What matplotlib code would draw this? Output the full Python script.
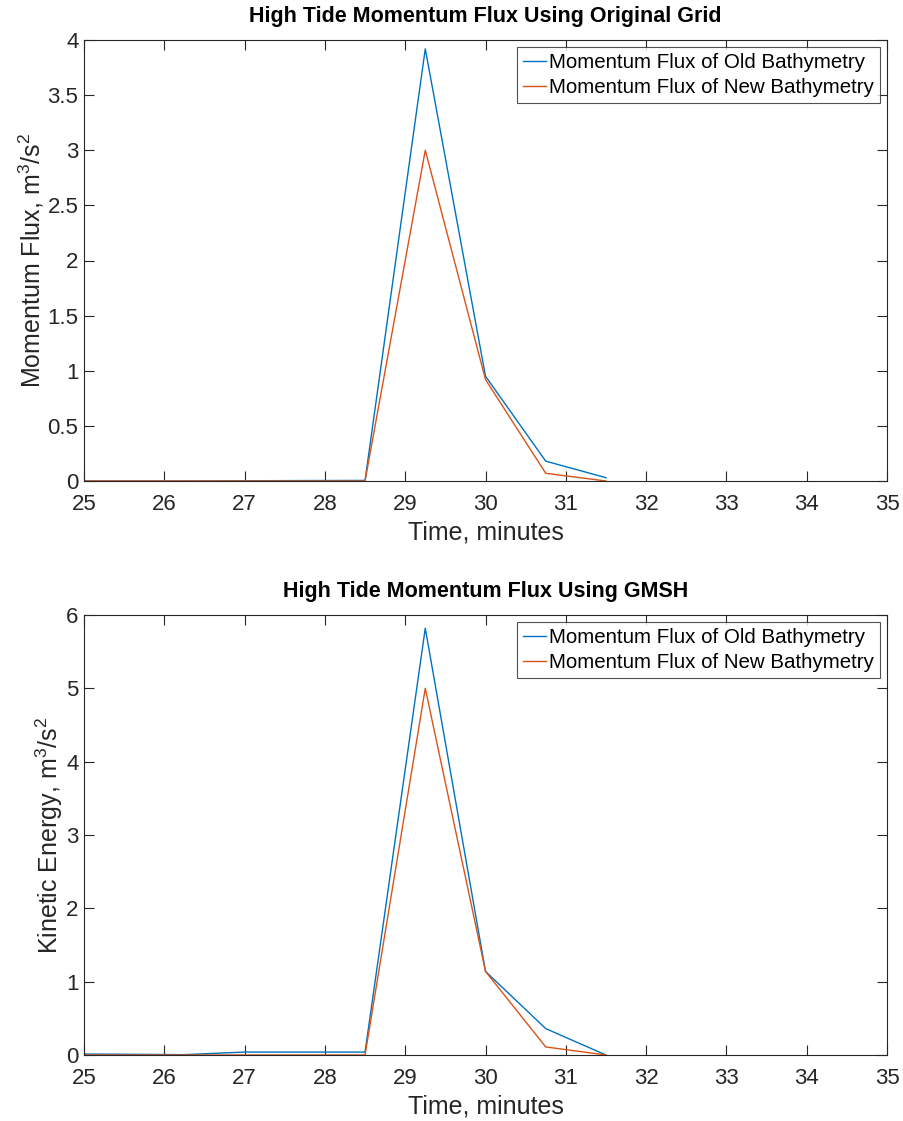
import matplotlib
matplotlib.use("Agg")
import matplotlib.pyplot as plt

plt.rcParams['font.family'] = ['Liberation Sans', 'DejaVu Sans']
plt.rcParams['mathtext.fontset'] = 'custom'
plt.rcParams['mathtext.rm'] = 'Liberation Sans'
plt.rcParams['mathtext.it'] = 'Liberation Sans'

# Time samples (minutes)
time_min = [24.75, 25.5, 26.25, 27.0, 27.75, 28.5, 29.25, 30.0, 30.75, 31.5]

# Original grid
orig_old = [0.0, 0.0, 0.0, 0.002, 0.004, 0.005, 3.92, 0.95, 0.18, 0.03]
orig_new = [0.0, 0.0, 0.0, 0.0, 0.0, 0.0, 3.0, 0.92, 0.07, 0.0]

# GMSH grid
gmsh_old = [0.015, 0.01, 0.005, 0.04, 0.04, 0.04, 5.82, 1.14, 0.36, 0.0]
gmsh_new = [0.0, 0.0, 0.0, 0.0, 0.0, 0.0, 5.0, 1.14, 0.11, 0.0]

titles = ["High Tide Momentum Flux Using Original Grid",
          "High Tide Momentum Flux Using GMSH"]
ylabels = ["Momentum Flux, m$^3$/s$^2$", "Kinetic Energy, m$^3$/s$^2$"]
legend_labels = ["Momentum Flux of Old Bathymetry", "Momentum Flux of New Bathymetry"]
x_ticks = list(range(25, 36))
y_ticks = [[0, 0.5, 1, 1.5, 2, 2.5, 3, 3.5, 4], [0, 1, 2, 3, 4, 5, 6]]
y_limits = [(0, 4), (0, 6)]

BLUE = '#0072BD'
ORANGE = '#D95319'
AXC = '#262626'

fig = plt.figure(figsize=(9.04, 11.21), dpi=100)
W, H = 904, 1121
boxes = [(84, 40, 887, 481), (84, 615, 887, 1055)]
series = [(orig_old, orig_new), (gmsh_old, gmsh_new)]

for i, (x0, y0, x1, y1) in enumerate(boxes):
    ax = fig.add_axes([x0 / W, 1 - y1 / H, (x1 - x0) / W, (y1 - y0) / H])
    old, new = series[i]
    ax.plot(time_min, old, color=BLUE, lw=1.0, label=legend_labels[0])
    ax.plot(time_min, new, color=ORANGE, lw=1.0, label=legend_labels[1])
    ax.set_xlim(25, 35)
    ax.set_ylim(*y_limits[i])
    ax.set_xticks(x_ticks)
    ax.set_yticks(y_ticks[i])
    ax.set_yticklabels([f"{v:g}" for v in y_ticks[i]])
    ax.tick_params(direction='in', top=True, right=True, length=7, width=0.8,
                   colors=AXC, labelsize=16)
    ax.tick_params(axis='x', pad=9)
    ax.tick_params(axis='y', pad=4)
    for sp in ax.spines.values():
        sp.set_color(AXC)
        sp.set_linewidth(0.8)
    ax.set_title(titles[i], fontsize=15.5, fontweight='bold', color='black', pad=13)
    ax.set_xlabel("Time, minutes", fontsize=18, color=AXC, labelpad=4)
    ax.set_ylabel(ylabels[i], fontsize=18, color=AXC, labelpad=1)
    leg = ax.legend(loc='upper right', fontsize=14.8, frameon=True, fancybox=False,
                    handlelength=1.1, handletextpad=0.15, borderpad=0.3,
                    labelspacing=0.28, borderaxespad=0.34)
    leg.get_frame().set_edgecolor(AXC)
    leg.get_frame().set_linewidth(0.8)

fig.savefig("out.png", dpi=100)
